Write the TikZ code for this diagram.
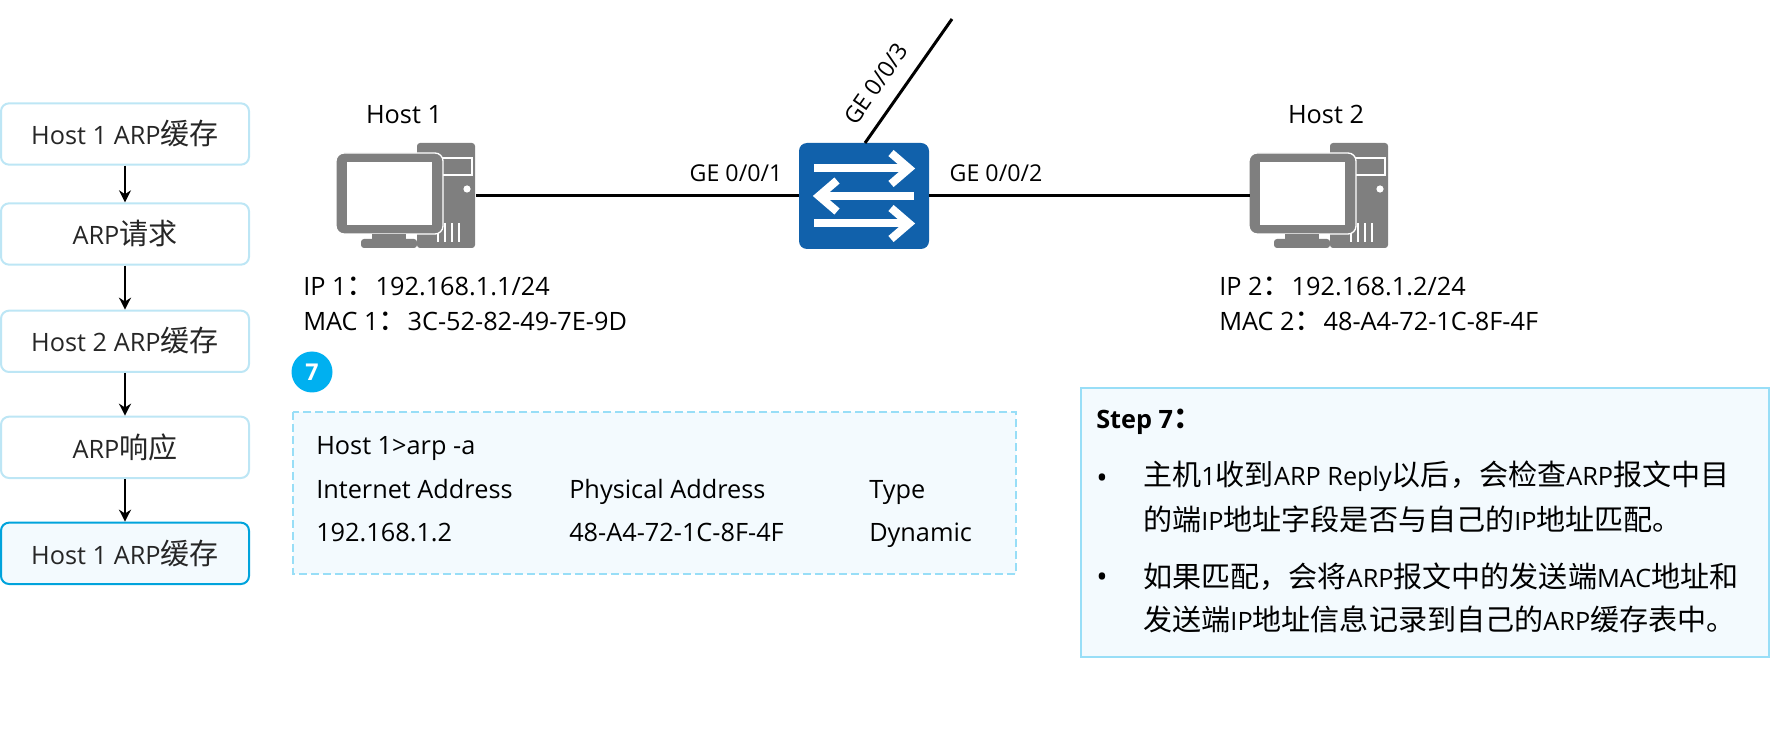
\documentclass[tikz,border=0pt]{standalone}
\usepackage{fontspec}
\setmainfont{Open Sans}[Scale=0.87]
\newfontfamily\zhfont{Noto Sans CJK SC}
\newcommand{\zh}[1]{{\zhfont #1}}
\usetikzlibrary{arrows.meta, positioning}
\definecolor{randhell}{HTML}{BDE6F5}
\definecolor{randblau}{HTML}{00A3DC}
\definecolor{rand}{HTML}{98DEF7}
\definecolor{flaeche}{HTML}{F3FAFE}
\definecolor{pcgrau}{HTML}{7F7F7F}
\definecolor{swblau}{HTML}{1161AB}
\definecolor{punkt}{HTML}{00B0F0}
\definecolor{schrift}{HTML}{262626}
\tikzset{
  pcicon/.pic={
    \fill[pcgrau, rounded corners=2.25pt] (80,0) rectangle (138,105);
    \draw[white, line width=0.9pt] (100,15) rectangle (135,32);
    \fill[white] (130,46) circle (2.7pt);
    \foreach \x in {100,107,114,121}
      \fill[white] (\x,80) rectangle ++(2,19);
    \draw[white, line width=1pt, fill=pcgrau, rounded corners=6pt] (-1,10) rectangle (106,91);
    \fill[white] (10,19) rectangle (95,82);
    \fill[pcgrau] (35,91) rectangle (69,96);
    \fill[pcgrau, rounded corners=2.25pt] (24,96) rectangle (80,105) -- (80,105);
  }
}
\begin{document}
\begin{tikzpicture}[
    x=0.75pt, y=-0.75pt,
    stepbox/.style={draw=randhell, line width=1.5pt, fill=white, rounded corners=6pt,
                    minimum width=186pt, minimum height=46pt, font=\fontsize{21.8pt}{24pt}\selectfont,
                    text=schrift, text height=16pt, text depth=0pt},
    arr/.style={-{Stealth[length=9pt, width=9pt]}, line width=1.5pt},
    link/.style={line width=2.25pt},
    txt/.style={anchor=base west, inner sep=0pt, font=\fontsize{21.8pt}{24pt}\selectfont},
    lab/.style={anchor=base, inner sep=0pt, font=\fontsize{20pt}{22pt}\selectfont},
    pcbox/.style={minimum width=103.5pt, minimum height=78.75pt, inner sep=0pt},
    swpfeil/.style={white, line width=6pt},
    node distance=32pt
  ]
  \useasboundingbox (0,0) rectangle (1770,748);

  % Ablauf links
  \node[stepbox] (s1) at (125,134) {Host 1 ARP\zh{缓存}};
  \node[stepbox, below=27.5pt of s1] (s2) {ARP\zh{请求}};
  \node[stepbox, below=33pt of s2] (s3) {Host 2 ARP\zh{缓存}};
  \node[stepbox, below=of s3] (s4) {ARP\zh{响应}};
  \node[stepbox, draw=randblau, fill=flaeche, below=of s4] (s5) {Host 1 ARP\zh{缓存}};
  \foreach \a/\b in {s1/s2, s2/s3, s3/s4, s4/s5}
    \draw[arr] (\a) -- (\b);

  % Topologie
  \pic at (337,143) {pcicon};
  \pic at (1250,143) {pcicon};
  \node[pcbox] (pc1) at (406.5,196) {};
  \node[pcbox] (pc2) at (1319,196) {};
  \node[minimum width=97.5pt, minimum height=79.5pt, inner sep=0pt, fill=swblau, rounded corners=6pt] (sw) at (864,196) {};
  \coordinate (up) at (952,19);
  \draw[link] (pc1.east) -- (sw.west);
  \draw[link] (sw.east) -- (pc2.west);
  \draw[link] (865,143) -- (up);

  \foreach \y in {168.5,223.5} {
    \draw[swpfeil] (814,\y) -- (908,\y);
    \draw[swpfeil, miter limit=4] (891,\y-15.5) -- (909,\y) -- (891,\y+15.5);
  }
  \draw[swpfeil] (914,196) -- (820,196);
  \draw[swpfeil, miter limit=4] (837,180.5) -- (819,196) -- (837,211.5);

  \node[lab, font=\fontsize{21.8pt}{24pt}\selectfont] (h1) at (404,124) {Host 1};
  \node[lab, font=\fontsize{21.8pt}{24pt}\selectfont] (h2) at (1326,124) {Host 2};
  \node[lab] (ge1) at (736,182) {GE 0/0/1};
  \node[lab] (ge2) at (996,182) {GE 0/0/2};
  \node[lab, anchor=center, rotate=55] (ge3) at (876,84) {GE 0/0/3};

  \node[txt] (ip1) at (303,296) {IP 1\zh{：}192.168.1.1/24};
  \node[txt] (mac1) at (303,331) {MAC 1\zh{：}3C-52-82-49-7E-9D};
  \node[txt] (ip2) at (1219,296) {IP 2\zh{：}192.168.1.2/24};
  \node[txt] (mac2) at (1219,331) {MAC 2\zh{：}48-A4-72-1C-8F-4F};

  % Tabelle
  \node[circle, fill=punkt, minimum size=30.75pt, inner sep=0pt, text=white, font=\fontsize{20pt}{22pt}\selectfont\bfseries] (nr) at (312,372) {7};
  \draw[draw=rand, line width=1.5pt, dash pattern=on 6pt off 3pt, fill=flaeche] (293,412) rectangle (1016,574);
  \node[txt] (t1) at (316,454) {Host 1>arp -a};
  \node[txt] (t2) at (316,498) {Internet Address};
  \node[txt] (t3) at (316,541) {192.168.1.2};
  \node[txt] (t4) at (569,498) {Physical Address};
  \node[txt] (t5) at (569,541) {48-A4-72-1C-8F-4F};
  \node[txt] (t6) at (869,498) {Type};
  \node[txt] (t7) at (869,541) {Dynamic};

  % Step 7
  \draw[draw=rand, line width=1.5pt, fill=flaeche] (1081,388) rectangle (1769,657);
  \node[txt, font=\fontsize{21.8pt}{24pt}\selectfont\bfseries] (st) at (1096,428) {Step 7\zh{：}};
  \node[txt, font=\fontsize{26pt}{30pt}\selectfont] (b1) at (1096,488.5) {•};
  \node[txt] (z1) at (1143,485) {\zh{主机}1\zh{收到}ARP Reply\zh{以后，会检查}ARP\zh{报文中目}};
  \node[txt] (z2) at (1143,530) {\zh{的端}IP\zh{地址字段是否与自己的}IP\zh{地址匹配。}};
  \node[txt, font=\fontsize{26pt}{30pt}\selectfont] (b2) at (1096,587.5) {•};
  \node[txt] (z3) at (1143,587) {\zh{如果匹配，会将}ARP\zh{报文中的发送端}MAC\zh{地址和}};
  \node[txt] (z4) at (1143,630) {\zh{发送端}IP\zh{地址信息记录到自己的}ARP\zh{缓存表中。}};
\end{tikzpicture}
\end{document}
